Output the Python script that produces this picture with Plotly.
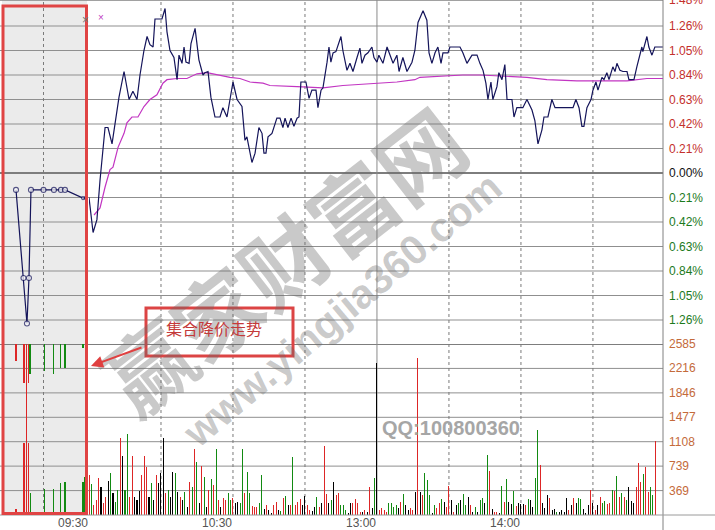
import plotly.graph_objects as go

# ---------------- data ----------------
# call-auction period (minutes after 09:15) and price change in %
auction_t = [1.84, 2.7, 3.1, 3.33, 3.56, 5.0, 6.2, 7.0, 7.47, 9.54, 9.85]
auction_pct = [-0.145, -0.90, -1.29, -0.90, -0.145, -0.145, -0.145, -0.145, -0.145, -0.215, -0.215]
auction_marker = [True, True, True, True, True, True, True, True, True, False, False]

# auction unmatched volume (hanging from top) and matched volume (from bottom)
auct_top_t = [1.84, 2.76, 3.1, 3.33, 3.45, 3.56, 5.06, 6.2, 7.0, 7.47, 9.54, 9.89]
auct_top_v = [257, 590, 590, 590, 453, 453, 408, 453, 363, 363, 60, 60]
auct_top_c = ["r", "r", "r", "r", "g", "g", "g", "g", "g", "g", "g", "r"]
auct_bot_t = [1.84, 2.76, 3.1, 3.33, 3.56, 5.06, 6.2, 7.0, 7.47, 9.54, 9.77]
auct_bot_v = [91, 1089, 2268, 1089, 333, 393, 393, 484, 499, 499, 575]
auct_bot_c = ["r", "r", "r", "r", "g", "g", "g", "g", "g", "g", "g"]

# trading session: minute index (0 = 09:30, 120 = 13:00, 240 = 15:00) and % change
price_min = [0, 1.7, 3.3, 4.6, 6.7, 7.9, 9.6, 11.25, 12.5, 14.6, 15.8, 16.7, 18.3, 20, 21.25, 22.9,
             24.2, 25.4, 26.7, 27.5, 30.4, 31.7, 32.5, 33.75, 35.4, 36.7, 37.5, 38.75, 39.6, 40.4,
             41.7, 42.5, 44.2, 45.8, 47.5, 48.3, 49.6, 50.8, 52.5, 54.6, 55.8, 57.5, 60, 61.7,
             63.75, 65, 65.8, 66.7, 67.9, 69.2, 70.8, 72.1, 72.9, 73.75, 74.6, 76.25, 78.3, 79.6,
             80.8, 81.7, 82.9, 84.2, 85.4, 86.7, 87.5, 88.3, 90.4, 91.7, 92.9, 94.6, 95.4, 96.7,
             97.5, 99.2, 100, 100.8, 101.7, 102.9, 105, 105.8, 107.5, 108.75, 110, 111.7, 112.9,
             113.75, 115, 116.25, 117.9, 118.75, 120, 120.8, 122.5, 124.2, 125, 126.7, 128.3,
             129.2, 130.8, 132.5, 134.6, 135.8, 137.1, 139.2, 140.8, 141.7, 142.9, 144.2, 145.4,
             146.7, 147.5, 149.6, 150.4, 154.6, 155.8, 157.5, 159.6, 161.7, 162.9, 164.2, 165.4,
             166.25, 167.5, 168.3, 170, 170.8, 172.1, 173.3, 174.2, 176.25, 177.1, 178.3, 180.8,
             182.5, 184.6, 185.8, 187.1, 188.75, 189.6, 191.25, 192.9, 194.2, 201.7, 202.9, 204.2,
             205.4, 206.25, 207.5, 209.2, 210, 211.25, 212.1, 213.75, 214.6, 215.8, 216.7, 218.3,
             219.2, 220, 221.25, 222.5, 224.2, 225, 227.1, 228.3, 229.2, 230.4, 230.8, 232.5,
             233.3, 234.6, 235.8, 239.2]
price_pct = [-0.21, -0.51, -0.40, -0.06, 0.39, 0.39, 0.25, 0.48, 0.65, 0.87, 0.74, 0.63, 0.70, 0.63,
             0.84, 1.05, 1.17, 1.10, 1.08, 1.32, 1.32, 1.41, 1.21, 1.05, 0.99, 0.80, 1.01, 0.94,
             1.08, 0.95, 0.94, 1.11, 1.24, 0.97, 0.84, 0.86, 0.87, 0.65, 0.48, 0.48, 0.56, 0.48,
             0.78, 0.63, 0.57, 0.28, 0.31, 0.22, 0.09, 0.17, 0.39, 0.34, 0.17, 0.17, 0.31, 0.34,
             0.47, 0.47, 0.39, 0.47, 0.39, 0.47, 0.40, 0.47, 0.48, 0.78, 0.78, 0.64, 0.71, 0.71,
             0.56, 0.71, 0.73, 0.95, 1.08, 0.95, 1.03, 1.04, 1.17, 1.05, 0.88, 0.94, 0.87, 0.99,
             1.07, 0.94, 1.01, 1.03, 1.08, 0.99, 0.95, 1.01, 0.94, 1.08, 1.03, 0.94, 1.01, 0.87,
             0.99, 0.87, 0.95, 1.05, 1.29, 1.39, 1.31, 1.03, 0.94, 1.03, 1.08, 0.94, 1.03, 1.03,
             1.08, 1.08, 1.03, 0.94, 1.01, 1.01, 0.94, 0.88, 0.77, 0.63, 0.78, 0.63, 0.74, 0.86,
             0.80, 0.93, 0.63, 0.63, 0.48, 0.56, 0.56, 0.63, 0.54, 0.45, 0.25, 0.37, 0.48, 0.48,
             0.63, 0.56, 0.56, 0.63, 0.56, 0.40, 0.40, 0.56, 0.63, 0.71, 0.78, 0.71, 0.82, 0.80,
             0.86, 0.80, 0.91, 0.87, 0.94, 0.88, 0.87, 0.87, 0.80, 0.80, 0.91, 0.99, 1.08, 1.04,
             1.17, 1.08, 1.01, 1.08, 1.08]

avg_min = [2.1, 4.6, 6.7, 8.75, 10, 12.1, 14.6, 15.8, 17.9, 20.4, 22.9, 25.4, 28.3, 30.8, 32.5,
           36.7, 40.8, 45, 49.2, 53.3, 58.75, 62.9, 67.1, 72.5, 75.4, 86.7, 97.5, 105.8, 120,
           128.3, 135.8, 137.9, 155.8, 162.9, 182.5, 190.8, 203.3, 224.2, 232.5, 239.2]
avg_pct = [-0.36, -0.30, -0.12, 0.03, 0.05, 0.22, 0.34, 0.43, 0.48, 0.48, 0.57, 0.63, 0.67, 0.77,
           0.80, 0.81, 0.81, 0.85, 0.86, 0.84, 0.82, 0.81, 0.78, 0.77, 0.75, 0.74, 0.73, 0.75,
           0.77, 0.78, 0.80, 0.82, 0.84, 0.84, 0.82, 0.80, 0.79, 0.79, 0.81, 0.81]

# per-minute volume (minute 0..236) and direction r=up, g=down, k=flat
vol = [605, 469, 150, 227, 560, 423, 181, 272, 514, 635, 333, 200, 378, 1164, 892, 378, 1225, 272,
       892, 272, 227, 363, 605, 892, 726, 272, 484, 227, 605, 484, 635, 1164, 333, 378, 272, 650,
       635, 348, 272, 227, 348, 121, 499, 423, 998, 801, 181, 741, 575, 121, 378, 544, 454, 998,
       227, 121, 257, 227, 333, 227, 257, 181, 197, 181, 998, 333, 650, 333, 136, 121, 121, 181,
       605, 91, 151, 76, 30, 151, 197, 76, 60, 257, 287, 151, 151, 877, 151, 197, 242, 151, 287,
       151, 76, 60, 121, 272, 121, 181, 1043, 318, 181, 227, 499, 302, 333, 151, 151, 76, 30, 181,
       181, 242, 181, 45, 45, 76, 45, 423, 106, 560, 2298, 76, 106, 76, 45, 181, 181, 121, 151,
       106, 197, 318, 151, 76, 106, 76, 348, 2374, 348, 302, 635, 529, 302, 30, 151, 106, 181,
       242, 197, 121, 438, 227, 45, 151, 181, 227, 318, 151, 272, 151, 45, 121, 45, 227, 257, 181,
       907, 665, 91, 45, 45, 30, 438, 197, 544, 197, 166, 363, 136, 181, 166, 166, 151, 242, 227,
       121, 560, 1285, 756, 181, 106, 302, 257, 76, 91, 45, 45, 76, 45, 257, 76, 151, 257, 181,
       257, 242, 91, 30, 151, 378, 181, 76, 151, 272, 181, 212, 166, 181, 378, 363, 590, 272, 333,
       272, 227, 423, 212, 181, 423, 786, 499, 620, 726, 348, 423, 302, 1119]
vol_dir = list("rgrrrkrrkgkggrkggrrkkkrrrkgkrkkkrgkkgkrkgkrgrgkrgkrgrgrkrrggrkkggrggrrrggkrkkrrkgrgkrgrrrkkrrkkgrkrrkgkrrgggkkrrrrkrkrkgkrrrrggggkrgkkrrkrkrgggkgrrgkrrkrkgkggkrkgkggkgrkrrkgrgkkgrkkkrgkkggrkkkrkkgkkkkrkrkggkkkrkrkrggrrgrgrgrgkkkrrrgrrggrk")

price_ticks = [1.48, 1.26, 1.05, 0.84, 0.63, 0.42, 0.21, 0.0, -0.21, -0.42, -0.63, -0.84, -1.05, -1.26]
price_labels = ["1.48%", "1.26%", "1.05%", "0.84%", "0.63%", "0.42%", "0.21%", "0.00%",
                "0.21%", "0.42%", "0.63%", "0.84%", "1.05%", "1.26%"]
vol_ticks = [369, 739, 1108, 1477, 1846, 2216, 2585]
vol_labels = ["369", "739", "1108", "1477", "1846", "2216", "2585"]
time_ticks = [0, 60, 120, 180]
time_labels = ["09:30", "10:30", "13:00", "14:00"]
dotted_minutes = [30, 60, 90, 150, 180, 210]
auction_dotted = [5]

# ---------------- styling ----------------
RED, GREEN, BLACK = "#dd2626", "#128a12", "#000000"
cmap = {"r": RED, "g": GREEN, "k": BLACK}
NAVY = "#14145a"
MAG = "#c235c2"
GRID = "#8f8f8f"

W, H = 715, 530
ML, MR, MT, MB = 0, 52, 0, 15
PW, PH = W - ML - MR, H - MT - MB          # 663 x 515
split = 89 / PW                             # auction / trading boundary
vol_frac = 171 / PH

fig = go.Figure()

# auction price
fig.add_trace(go.Scatter(x=auction_t, y=auction_pct, xaxis="x", yaxis="y", mode="lines+markers",
                         line=dict(color=NAVY, width=1.2),
                         marker=dict(size=[5 if m else 3 for m in auction_marker], color="white",
                                     line=dict(color=NAVY, width=1.1)),
                         hoverinfo="skip", showlegend=False))
# auction volumes
fig.add_trace(go.Bar(x=auct_top_t, y=[-v for v in auct_top_v], base=[2585] * len(auct_top_v),
                     xaxis="x", yaxis="y2", width=0.12,
                     marker=dict(color=[cmap[c] for c in auct_top_c], line=dict(width=0)),
                     hoverinfo="skip", showlegend=False))
fig.add_trace(go.Bar(x=auct_bot_t, y=auct_bot_v, xaxis="x", yaxis="y2", width=0.12,
                     marker=dict(color=[cmap[c] for c in auct_bot_c], line=dict(width=0)),
                     hoverinfo="skip", showlegend=False))
# trading volume
fig.add_trace(go.Bar(x=list(range(len(vol))), y=vol, xaxis="x2", yaxis="y2", width=0.42,
                     marker=dict(color=[cmap[c] for c in vol_dir], line=dict(width=0)),
                     hoverinfo="skip", showlegend=False))
# average + price lines
fig.add_trace(go.Scatter(x=avg_min, y=avg_pct, xaxis="x2", yaxis="y", mode="lines",
                         line=dict(color=MAG, width=1.2), hoverinfo="skip", showlegend=False))
fig.add_trace(go.Scatter(x=price_min, y=price_pct, xaxis="x2", yaxis="y", mode="lines",
                         line=dict(color=NAVY, width=1.2), hoverinfo="skip", showlegend=False))

px_per_pct = 24.5 / 0.21
price_top = 173 / px_per_pct
price_bot = -(344 - 173) / px_per_pct

shapes = []
# auction background
shapes.append(dict(type="rect", xref="paper", yref="paper", x0=2 / PW, x1=87 / PW, y0=0, y1=1,
                   fillcolor="#ebebeb", line=dict(width=0), layer="below"))
# horizontal grid lines
for v in price_ticks:
    w = 2 if v == 0 else 1
    shapes.append(dict(type="line", xref="paper", yref="y", x0=0, x1=1, y0=v, y1=v,
                       line=dict(color="#7d7d7d" if v == 0 else GRID, width=w), layer="below"))
for v in vol_ticks:
    w = 2 if v == 2585 else 1
    shapes.append(dict(type="line", xref="paper", yref="y2", x0=0, x1=1, y0=v, y1=v,
                       line=dict(color="#7d7d7d" if v == 2585 else GRID, width=w), layer="below"))
# vertical dotted grid lines
for m in dotted_minutes:
    shapes.append(dict(type="line", xref="x2", yref="paper", x0=m, x1=m, y0=0, y1=1,
                       line=dict(color="#7a7a7a", width=1, dash="dot"), layer="below"))
for t in auction_dotted:
    shapes.append(dict(type="line", xref="x", yref="paper", x0=t, x1=t, y0=0, y1=1,
                       line=dict(color="#7a7a7a", width=1, dash="dot"), layer="below"))
# 13:00 solid line
shapes.append(dict(type="line", xref="x2", yref="paper", x0=120, x1=120, y0=0, y1=1,
                   line=dict(color="#8a8a8a", width=1), layer="below"))
# right axis line and bottom line
shapes.append(dict(type="line", xref="paper", yref="paper", x0=1, x1=1, y0=-15 / PH, y1=1,
                   line=dict(color="#808080", width=1)))
shapes.append(dict(type="line", xref="paper", yref="paper", x0=0, x1=W / PW, y0=0, y1=0,
                   line=dict(color="#9a9a9a", width=1)))
# red frame around auction
shapes.append(dict(type="rect", xref="paper", yref="paper", x0=3 / PW, x1=86.5 / PW,
                   y0=1.5 / PH, y1=(PH - 6) / PH, line=dict(color="#e04444", width=3),
                   fillcolor="rgba(0,0,0,0)"))
# annotation box
shapes.append(dict(type="rect", xref="paper", yref="paper", x0=146 / PW, x1=293 / PW,
                   y0=(PH - 356) / PH, y1=(PH - 308) / PH, line=dict(color="#dc4444", width=3),
                   fillcolor="rgba(0,0,0,0)"))

ann = []
LBL_FONT = "Liberation Sans, Arial, sans-serif"
for v, t in zip(price_ticks, price_labels):
    col = "#c4302c" if v > 0 else ("#111111" if v == 0 else "#1c7a1c")
    ann.append(dict(xref="paper", yref="y", x=1, y=v, xshift=4, xanchor="left", yanchor="middle",
                    text=t, showarrow=False, font=dict(family=LBL_FONT, size=12, color=col)))
for v, t in zip(vol_ticks, vol_labels):
    ann.append(dict(xref="paper", yref="y2", x=1, y=v, xshift=4, xanchor="left", yanchor="middle",
                    text=t, showarrow=False, font=dict(family=LBL_FONT, size=12, color="#c46a3a")))
for m, t in zip(time_ticks, time_labels):
    ann.append(dict(xref="x2", yref="paper", x=m, y=0, xanchor="right", yanchor="top", xshift=1,
                    yshift=1, text=t, showarrow=False,
                    font=dict(family=LBL_FONT, size=12, color="#555555")))

# watermark
WM = "rgba(105,105,105,0.36)"
ann.append(dict(xref="paper", yref="paper", x=282 / PW, y=(PH - 258) / PH, text="<b>赢家财富网</b>",
                showarrow=False, textangle=-38, xanchor="center", yanchor="middle",
                font=dict(family="Noto Sans CJK SC", size=86, color=WM)))
ann.append(dict(xref="paper", yref="paper", x=342 / PW, y=(PH - 310) / PH, text="<b>www.yingjia360.com</b>",
                showarrow=False, textangle=-40, xanchor="center", yanchor="middle",
                font=dict(family="Liberation Sans, Arial", size=41, color=WM)))
ann.append(dict(xref="paper", yref="paper", x=451 / PW, y=(PH - 428) / PH, text="<b>QQ:100800360</b>",
                showarrow=False, xanchor="center", yanchor="middle",
                font=dict(family="Liberation Sans, Arial", size=20, color="#a6a6a6")))
# callout text + arrow
ann.append(dict(xref="paper", yref="paper", x=214 / PW, y=(PH - 328) / PH, text="集合降价走势",
                showarrow=False, xanchor="center", yanchor="middle",
                font=dict(family="Noto Sans CJK SC", size=16, color="#c43a3a")))
ann.append(dict(xref="paper", yref="paper", x=91 / PW, y=(PH - 366) / PH, ax=52, ay=-19,
                text="", showarrow=True, arrowhead=2, arrowsize=1.2, arrowwidth=2,
                arrowcolor="#e04040", standoff=0))
# small cross marks
ann.append(dict(xref="paper", yref="paper", x=80 / PW, y=(PH - 11) / PH, text="×", showarrow=False,
                font=dict(family=LBL_FONT, size=12, color="#777777")))
ann.append(dict(xref="paper", yref="paper", x=96 / PW, y=(PH - 10) / PH, text="×", showarrow=False,
                font=dict(family=LBL_FONT, size=10, color="#c040c0")))

hidden = dict(visible=False, showgrid=False, zeroline=False, fixedrange=True)
fig.update_layout(
    width=W, height=H,
    margin=dict(l=ML, r=MR, t=MT, b=MB, pad=0),
    paper_bgcolor="white", plot_bgcolor="rgba(0,0,0,0)",
    bargap=0, barmode="overlay",
    xaxis=dict(domain=[0, split], range=[0, 89 / 8.7], anchor="y2", **hidden),
    xaxis2=dict(domain=[split, 1], range=[0, 239.2], anchor="y2", **hidden),
    yaxis=dict(domain=[vol_frac, 1], range=[price_bot, price_top], anchor="x", **hidden),
    yaxis2=dict(domain=[0, vol_frac], range=[0, 2585], anchor="x", **hidden),
    shapes=shapes, annotations=ann,
)

fig.write_html("out.html", config={"staticPlot": True},
               post_script="document.body.style.margin='0';document.body.style.overflow='hidden';")
